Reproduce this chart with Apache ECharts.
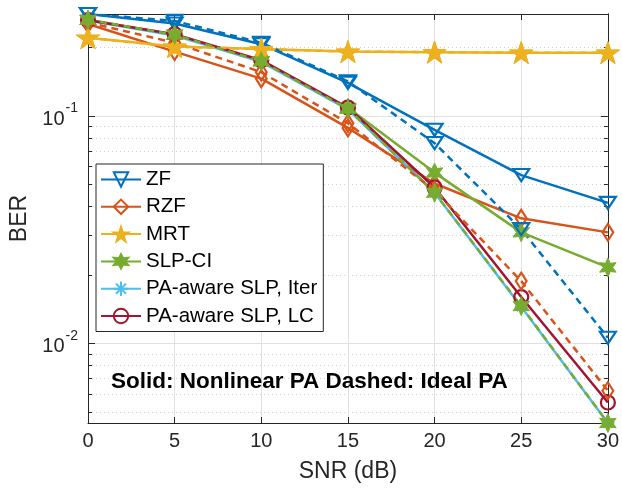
<!DOCTYPE html>
<html>
<head>
<meta charset="utf-8">
<script src="https://cdn.jsdelivr.net/npm/echarts@6/dist/echarts.min.js"></script>
<style>
html,body{margin:0;padding:0;background:#fff;}
#chart{width:622px;height:489px;}
</style>
</head>
<body>
<div id="chart"></div>
<script>
// ---- data ----
const snr = [0, 5, 10, 15, 20, 25, 30];
const zfNL     = [0.281, 0.255, 0.207, 0.140, 0.087, 0.055, 0.0415];
const rzfNL    = [0.254, 0.192, 0.146, 0.0887, 0.0505, 0.0355, 0.0308];
const mrtNL    = [0.221, 0.202, 0.197, 0.192, 0.191, 0.190, 0.190];
const slpNL    = [0.265, 0.228, 0.174, 0.1087, 0.0564, 0.0308, 0.0216];
const iterNL   = [0.263, 0.226, 0.173, 0.107, 0.046, 0.0145, 0.00447];
const lcNL     = [0.264, 0.229, 0.176, 0.109, 0.0485, 0.0160, 0.0055];
const zfIdeal  = [0.281, 0.262, 0.210, 0.142, 0.076, 0.0318, 0.0106];
const rzfIdeal = [0.258, 0.210, 0.156, 0.093, 0.047, 0.0188, 0.0062];
const mrtIdeal = [0.221, 0.202, 0.197, 0.192, 0.191, 0.190, 0.190];
const slpIdeal = [0.265, 0.228, 0.174, 0.1075, 0.046, 0.0146, 0.00447];
const names = ['ZF', 'RZF', 'MRT', 'SLP-CI', 'PA-aware SLP, Iter', 'PA-aware SLP, LC'];
const xTicks = [0, 5, 10, 15, 20, 25, 30];
const yMajor = [0.01, 0.1];
const yMinor = [0.005, 0.006, 0.007, 0.008, 0.009, 0.02, 0.03, 0.04, 0.05, 0.06, 0.07, 0.08, 0.09, 0.2];
const yRange = [0.00447, 0.281];
const note = 'Solid: Nonlinear PA Dashed: Ideal PA';

// ---- styling ----
const C = ['#0072BD', '#D95319', '#EDB120', '#77AC30', '#4DBEEE', '#A2142F'];
const AX = '#262626';
const SYM = {
  tri: 'path://M0,0L10,0L5,8.66Z',
  dia: 'path://M5,0L10,6L5,12L0,6Z',
  star5: 'path://M50,0L61.2,34.5L97.6,34.5L68.2,55.9L79.4,90.5L50,69.1L20.6,90.5L31.8,55.9L2.4,34.5L38.8,34.5Z',
  star6: 'path://M50,0L62.5,28.3L93.3,25L75,50L93.3,75L62.5,71.7L50,100L37.5,71.7L6.7,75L25,50L6.7,25L37.5,28.3Z',
  ast: 'path://M5,0L5,10M0,5L10,5M1.5,1.5L8.5,8.5M1.5,8.5L8.5,1.5',
  circ: 'circle'
};
const L = v => Math.log10(v);
const toData = arr => snr.map((x, i) => [x, L(arr[i])]);

function mk(name, arr, color, sym, size, filled, dashed) {
  return {
    name: name,
    type: 'line',
    data: toData(arr),
    symbol: sym,
    symbolSize: size,
    symbolKeepAspect: true,
    showSymbol: true,
    clip: false,
    lineStyle: { color: color, width: 2.5, type: dashed ? [7, 5] : 'solid' },
    itemStyle: {
      color: filled ? color : 'rgba(255,255,255,0)',
      borderColor: color,
      borderWidth: filled ? 1 : 2.2
    },
    emphasis: { disabled: true },
    animation: false
  };
}

const series = [
  mk(names[0], zfNL, C[0], SYM.tri, [16, 14], false, false),
  mk(names[1], rzfNL, C[1], SYM.dia, [13, 17], false, false),
  mk(names[2], mrtNL, C[2], SYM.star5, 23, true, false),
  mk(names[3], slpNL, C[3], SYM.star6, 19, true, false),
  mk(names[4], iterNL, C[4], SYM.ast, 13, false, false),
  mk(names[5], lcNL, C[5], SYM.circ, 14, false, false),
  mk('ZF ideal', zfIdeal, C[0], SYM.tri, [16, 14], false, true),
  mk('RZF ideal', rzfIdeal, C[1], SYM.dia, [13, 17], false, true),
  mk('MRT ideal', mrtIdeal, C[2], SYM.star5, 23, true, true),
  mk('SLP-CI ideal', slpIdeal, C[3], SYM.star6, 19, true, true)
];

const yMin = L(yRange[0]), yMax = L(yRange[1]);
const majorVals = yMajor.map(L), minorVals = yMinor.map(L);

function yAx(pos, vals, tickLen, labels, split, dotted) {
  return {
    type: 'value', position: pos, min: yMin, max: yMax,
    axisLine: { show: true, lineStyle: { color: AX, width: 1 } },
    axisTick: { show: true, inside: true, length: tickLen, customValues: vals, lineStyle: { color: AX } },
    axisLabel: labels ? {
      show: true, customValues: vals, margin: 10,
      formatter: v => '{b|10}{s|' + Math.round(v) + '}',
      rich: {
        b: { fontSize: 20, color: AX, fontFamily: 'Liberation Sans', padding: [7, 0, 0, 0] },
        s: { fontSize: 14, color: AX, fontFamily: 'Liberation Sans', padding: [0, 0, 15, 1] }
      }
    } : { show: false },
    splitLine: split ? { show: true, lineStyle: { color: dotted ? '#cfcfcf' : '#e0e0e0', width: 1, type: dotted ? [1, 3] : 'solid' } } : { show: false },
    name: labels ? 'BER' : '',
    nameLocation: 'middle',
    nameGap: 56,
    nameTextStyle: { fontSize: 23, color: AX, fontFamily: 'Liberation Sans' }
  };
}

const option = {
  backgroundColor: '#fff',
  animation: false,
  grid: { left: 88, right: 13, top: 14, bottom: 66, containLabel: false },
  xAxis: [
    {
      type: 'value', position: 'bottom', min: 0, max: 30, interval: 5,
      axisLine: { show: true, lineStyle: { color: AX, width: 1 } },
      axisTick: { show: true, inside: true, length: 6, lineStyle: { color: AX } },
      axisLabel: { fontSize: 20, color: AX, margin: 8, fontFamily: 'Liberation Sans',
        formatter: v => xTicks.includes(v) ? String(v) : '' },
      splitLine: { show: true, lineStyle: { color: '#e0e0e0', width: 1 } },
      name: 'SNR (dB)', nameLocation: 'middle', nameGap: 37,
      nameTextStyle: { fontSize: 23, color: AX, fontFamily: 'Liberation Sans' }
    },
    {
      type: 'value', position: 'top', min: 0, max: 30, interval: 5,
      axisLine: { show: true, lineStyle: { color: AX, width: 1 } },
      axisTick: { show: true, inside: true, length: 6, lineStyle: { color: AX } },
      axisLabel: { show: false }, splitLine: { show: false }
    }
  ],
  yAxis: [
    yAx('left', majorVals, 7, true, true, false),
    yAx('left', minorVals, 4, false, true, true),
    yAx('right', majorVals, 7, false, false, false),
    yAx('right', minorVals, 4, false, false, false)
  ],
  legend: {
    data: names,
    orient: 'vertical',
    left: 96, top: 164,
    backgroundColor: '#fff',
    borderColor: AX, borderWidth: 1,
    padding: [5, 6, 5, 4],
    itemWidth: 40, itemHeight: 18, itemGap: 6.3,
    textStyle: { fontSize: 20.5, color: '#000', fontFamily: 'Liberation Sans' },
    selectedMode: false
  },
  graphic: [{
    type: 'text', left: 111, top: 370, z: 100,
    style: { text: note, fontSize: 22.5, fontWeight: 'bold', fill: '#000', fontFamily: 'Liberation Sans' }
  }],
  series: series
};

const chart = echarts.init(document.getElementById('chart'), null, { renderer: 'canvas' });
chart.setOption(option);
</script>
</body>
</html>
